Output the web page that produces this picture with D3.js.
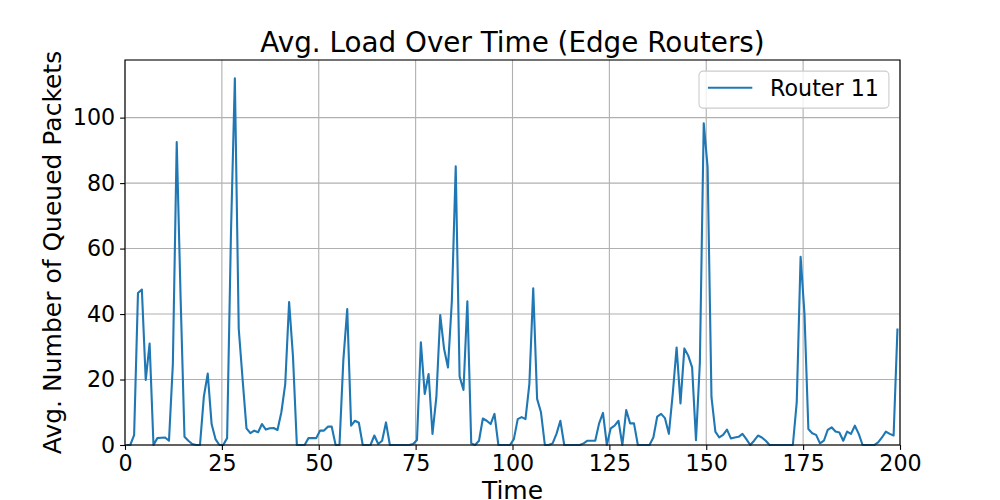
<!DOCTYPE html>
<html>
<head>
<meta charset="utf-8">
<script src="https://cdn.jsdelivr.net/npm/d3@7"></script>
<style>
  body { margin:0; background:#fff; }
  svg text { font-family:"DejaVu Sans", sans-serif; fill:#000; }
</style>
</head>
<body>
<div id="chart"></div>
<script>
// one sample per time step (first sample sits a bit after t=0)
const seriesName = "Router 11";
const sampleStart = 0.35;
const queued = [
  0, 0, 3.0, 46.4, 47.5, 19.9, 31, 0, 2.1, 2.2,
  2.3, 1.3, 24.7, 92.5, 45, 2.5, 1.3, 0.3, 0, 0,
  14.8, 21.8, 6.4, 1.8, 0, 0, 2.1, 65, 112, 35.5,
  20, 5.1, 3.6, 4.4, 3.9, 6.4, 4.7, 5.1, 5.2, 4.6,
  10, 18.6, 43.7, 27, 0, 0, 0, 2.1, 2.1, 2.1,
  4.4, 4.4, 5.6, 5.6, 0, 0, 26, 41.5, 5.9, 7.4,
  6.8, 0, 0, 0, 2.9, 0.3, 1.3, 6.9, 0, 0,
  0, 0, 0, 0, 0.3, 1.5, 31.4, 15.6, 21.7, 3.4,
  14.6, 39.7, 29.3, 23.7, 44, 85.1, 20.9, 16.8, 43.9, 0.5,
  0, 1.3, 8.1, 7.4, 6.4, 9.5, 0, 0, 0, 0,
  1.8, 7.9, 8.5, 7.9, 18.6, 47.9, 14.1, 10, 0, 0,
  0.5, 3.4, 7.4, 0, 0, 0, 0, 0, 0.5, 1.3,
  1.3, 1.3, 6.6, 9.8, 0, 5.1, 5.9, 7.4, 0, 10.7,
  6.6, 6.6, 0, 0, 0, 0, 2.3, 8.7, 9.5, 8.2,
  3.4, 15.6, 29.8, 12.7, 29.5, 27.3, 23.7, 1.5, 25, 98.3,
  84.8, 14.6, 4.1, 2.3, 3.1, 4.7, 2.0, 2.3, 2.5, 3.4,
  1.8, 0, 1.3, 2.9, 2.3, 1.3, 0, 0, 0, 0,
  0, 0, 0, 13, 57.5, 40, 4.9, 3.6, 3.1, 0.5,
  1.3, 4.6, 5.4, 4.1, 3.8, 1.3, 4.1, 3.4, 5.9, 3.4,
  0, 0, 0, 0, 0.8, 2.3, 4.1, 3.4, 2.9, 35.6
];
const xTicks = [0, 25, 50, 75, 100, 125, 150, 175, 200];
const yTicks = [0, 20, 40, 60, 80, 100];

const m = { top:60, right:100, bottom:55, left:125 };
const w = 1000, h = 500;
const iw = w - m.left - m.right, ih = h - m.top - m.bottom;
const blue = "#1f77b4";

const svg = d3.select("#chart").append("svg").attr("width", w).attr("height", h);
const g = svg.append("g").attr("transform", `translate(${m.left},${m.top})`);

const x = d3.scaleLinear().domain([0, 200]).range([0, iw]);
const y = d3.scaleLinear().domain([0, d3.max(queued) * 1.05]).range([ih, 0]);

// grid first so the line sits on top
g.append("g").selectAll("line").data(xTicks).enter().append("line")
  .attr("x1", d => x(d)).attr("x2", d => x(d)).attr("y1", 0).attr("y2", ih)
  .attr("stroke", "#b0b0b0").attr("stroke-width", 1.1);
g.append("g").selectAll("line").data(yTicks).enter().append("line")
  .attr("x1", 0).attr("x2", iw).attr("y1", d => y(d)).attr("y2", d => y(d))
  .attr("stroke", "#b0b0b0").attr("stroke-width", 1.1);

const line = d3.line()
  .x((d, i) => x(sampleStart + i))
  .y(d => y(d));

g.append("path")
  .datum(queued)
  .attr("fill", "none")
  .attr("stroke", blue)
  .attr("stroke-width", 2.1)
  .attr("stroke-linejoin", "round")
  .attr("d", line);

// axes
const gx = g.append("g").attr("transform", `translate(0,${ih})`)
  .call(d3.axisBottom(x).tickValues(xTicks).tickSize(4.9).tickPadding(4.9).tickSizeOuter(0));
const gy = g.append("g")
  .call(d3.axisLeft(y).tickValues(yTicks).tickSize(4.9).tickPadding(4.9).tickSizeOuter(0));
[gx, gy].forEach(a => {
  a.attr("font-size", 22.2).attr("font-family", "DejaVu Sans");
  a.selectAll("line").attr("stroke", "#000").attr("stroke-width", 1.1);
  a.select(".domain").remove();
});

// spines
g.append("rect").attr("width", iw).attr("height", ih)
  .attr("fill", "none").attr("stroke", "#000").attr("stroke-width", 1.1);

// labels (the reference's x label sits right on the bottom edge too)
svg.append("text").attr("x", m.left + iw/2).attr("y", 51.7)
  .attr("text-anchor", "middle").attr("font-size", 27.8)
  .text("Avg. Load Over Time (Edge Routers)");
svg.append("text").attr("x", m.left + iw/2).attr("y", 498.5)
  .attr("text-anchor", "middle").attr("font-size", 25)
  .text("Time");
svg.append("text").attr("transform", "rotate(-90)")
  .attr("x", -(m.top + ih/2)).attr("y", 61)
  .attr("text-anchor", "middle").attr("font-size", 25)
  .text("Avg. Number of Queued Packets");

// legend, upper right like matplotlib
const lg = g.append("g").attr("transform", `translate(${iw - 11.1 - 189.9},11.1)`);
lg.append("rect").attr("width", 189.9).attr("height", 37).attr("rx", 4).attr("ry", 4)
  .attr("fill", "#fff").attr("fill-opacity", 0.8)
  .attr("stroke", "#cccccc").attr("stroke-width", 1.1);
lg.append("line").attr("x1", 8.9).attr("x2", 53.3).attr("y1", 16.6).attr("y2", 16.6)
  .attr("stroke", blue).attr("stroke-width", 2.1);
lg.append("text").attr("x", 71.1).attr("y", 24.9).attr("font-size", 22.2).text(seriesName);
</script>
</body>
</html>
